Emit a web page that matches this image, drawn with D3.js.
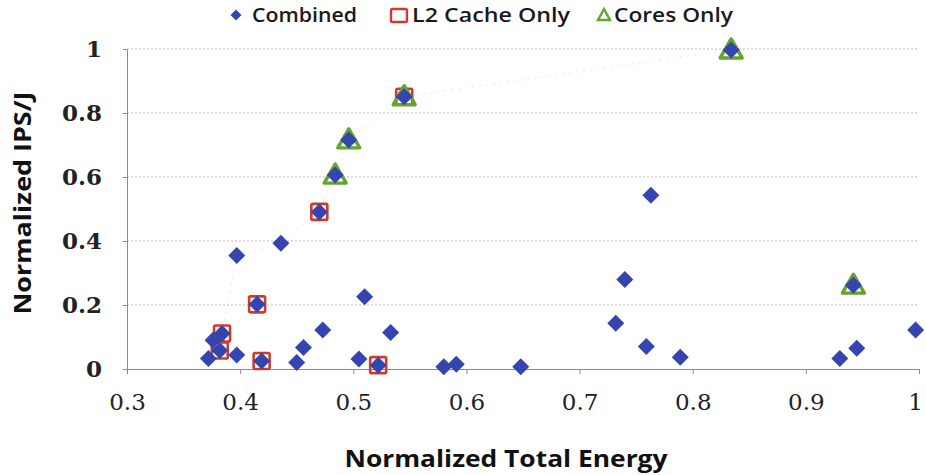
<!DOCTYPE html>
<html>
<head>
<meta charset="utf-8">
<script src="https://cdn.jsdelivr.net/npm/d3@7"></script>
<style>
  body { margin: 0; background: #fff; }
  svg { display: block; }
</style>
</head>
<body>
<div class="chart"></div>
<script>
// Size of the picture
let width = 926;
let height = 475;

// Combined points [energy, ips/j]
const combined = [
    [0.372, 0.033], [0.376, 0.090], [0.382, 0.058], [0.384, 0.111], [0.397, 0.044],
    [0.397, 0.355], [0.415, 0.202], [0.419, 0.025], [0.436, 0.393], [0.450, 0.020],
    [0.456, 0.067], [0.470, 0.491], [0.473, 0.122], [0.484, 0.606], [0.496, 0.716],
    [0.505, 0.031], [0.510, 0.226], [0.522, 0.012], [0.533, 0.114], [0.545, 0.851],
    [0.580, 0.007], [0.591, 0.015], [0.648, 0.007], [0.732, 0.143], [0.740, 0.280],
    [0.759, 0.070], [0.763, 0.543], [0.789, 0.037], [0.834, 0.997], [0.930, 0.033],
    [0.942, 0.262], [0.945, 0.065], [0.997, 0.122]
];

// L2 cache only points
const l2Only = [
    [0.382, 0.058], [0.384, 0.111], [0.415, 0.202], [0.419, 0.025],
    [0.470, 0.491], [0.522, 0.012], [0.545, 0.851]
];

// Cores only points
const coresOnly = [
    [0.484, 0.606], [0.496, 0.716], [0.545, 0.851], [0.834, 0.997], [0.942, 0.262]
];

// Faint frontier line through the best points
const frontier = [
    [0.372, 0.033], [0.384, 0.111], [0.397, 0.355], [0.436, 0.393], [0.470, 0.491],
    [0.484, 0.606], [0.496, 0.716], [0.545, 0.851], [0.834, 0.997]
];

// Tick values
const xTicks = [0.3, 0.4, 0.5, 0.6, 0.7, 0.8, 0.9, 1];
const yTicks = [0, 0.2, 0.4, 0.6, 0.8, 1];

// Legend entries
const legendItems = ["Combined", "L2 Cache Only", "Cores Only"];

const blue = "#3545b0";
const red = "#cf3b2b";
const green = "#62a52a";

let svg = d3.select(".chart").append("svg")
    .attr("width", width)
    .attr("height", height)
    .attr("viewBox", `0 0 ${width} ${height}`);

// Scales
const xScale = d3.scaleLinear().domain([0.3, 1]).range([127, 919]);
const yScale = d3.scaleLinear().domain([0, 1]).range([369, 49]);

// Dotted grid lines
svg.append("g")
    .selectAll("line")
    .data(yTicks.filter(d => d > 0))
    .enter().append("line")
    .attr("x1", xScale(0.3))
    .attr("x2", xScale(1))
    .attr("y1", d => yScale(d))
    .attr("y2", d => yScale(d))
    .attr("stroke", "#bdbdbd")
    .attr("stroke-width", 1)
    .attr("stroke-dasharray", "2,2");

// x axis
let xAxis = svg.append("g")
    .attr("transform", `translate(0, ${yScale(0)})`)
    .call(d3.axisBottom(xScale).tickValues(xTicks).tickSize(5).tickSizeOuter(0)
        .tickFormat(d3.format("")));
xAxis.select(".domain").attr("stroke", "#8a8a8a");
xAxis.selectAll(".tick line").attr("stroke", "#8a8a8a");
xAxis.selectAll("text")
    .attr("y", 33)
    .attr("dy", "0.35em")
    .style("font-family", "'DejaVu Serif', serif")
    .style("font-size", "23px")
    .attr("fill", "#222");
// keep the last label inside the picture
xAxis.selectAll("text").filter(d => d === 1).attr("dx", -4);

// y axis
let yAxis = svg.append("g")
    .attr("transform", `translate(${xScale(0.3)}, 0)`)
    .call(d3.axisLeft(yScale).tickValues(yTicks).tickSize(4).tickSizeOuter(0)
        .tickFormat(d3.format("")));
yAxis.select(".domain").attr("stroke", "#8a8a8a");
yAxis.selectAll(".tick line").attr("stroke", "#8a8a8a");
yAxis.selectAll("text")
    .attr("x", -25)
    .style("font-family", "'DejaVu Serif', serif")
    .style("font-size", "23px")
    .style("font-weight", "bold")
    .attr("fill", "#222");

// Faint frontier line
svg.append("path")
    .datum(frontier)
    .attr("d", d3.line().x(d => xScale(d[0])).y(d => yScale(d[1])))
    .attr("fill", "none")
    .attr("stroke", "#8a96dd")
    .attr("stroke-opacity", 0.25)
    .attr("stroke-width", 1)
    .attr("stroke-dasharray", "2,5");

// Red squares
svg.append("g")
    .selectAll("rect")
    .data(l2Only)
    .enter().append("rect")
    .attr("x", d => xScale(d[0]) - 8)
    .attr("y", d => yScale(d[1]) - 8)
    .attr("width", 16)
    .attr("height", 16)
    .attr("rx", 1.5)
    .attr("fill", "none")
    .attr("stroke", red)
    .attr("stroke-width", 2.6);

// Green triangles
const triPath = "M0,-11 L11,8 L-11,8 Z";
svg.append("g")
    .selectAll("path")
    .data(coresOnly)
    .enter().append("path")
    .attr("d", triPath)
    .attr("transform", d => `translate(${xScale(d[0])}, ${yScale(d[1])})`)
    .attr("fill", "none")
    .attr("stroke", green)
    .attr("stroke-width", 3.4)
    .attr("stroke-linejoin", "round");

// Blue diamonds
const diamondPath = "M0,-8.5 L8.5,0 L0,8.5 L-8.5,0 Z";
svg.append("g")
    .selectAll("path")
    .data(combined)
    .enter().append("path")
    .attr("d", diamondPath)
    .attr("transform", d => `translate(${xScale(d[0])}, ${yScale(d[1])})`)
    .attr("fill", blue);

// Legend
let legend = svg.append("g");
const legendX = [236, 399, 604];
const legendTextX = [252, 412, 614];
const legendWidths = [105, 158, 119];

legend.append("path")
    .attr("d", "M0,-5.5 L5.5,0 L0,5.5 L-5.5,0 Z")
    .attr("transform", `translate(${legendX[0]}, 15)`)
    .attr("fill", blue);
legend.append("rect")
    .attr("x", legendX[1] - 8).attr("y", 9)
    .attr("width", 16).attr("height", 13)
    .attr("rx", 1.5)
    .attr("fill", "none")
    .attr("stroke", red)
    .attr("stroke-width", 2.4);
legend.append("path")
    .attr("d", "M0,-6 L6,5 L-6,5 Z")
    .attr("transform", `translate(${legendX[2]}, 15)`)
    .attr("fill", "none")
    .attr("stroke", green)
    .attr("stroke-width", 2.4);

legend.selectAll("text")
    .data(legendItems)
    .enter().append("text")
    .attr("x", (d, i) => legendTextX[i])
    .attr("y", 22)
    .attr("textLength", (d, i) => legendWidths[i])
    .attr("lengthAdjust", "spacingAndGlyphs")
    .style("font-family", "'Open Sans', sans-serif")
    .style("font-size", "19px")
    .style("font-weight", "600")
    .attr("fill", "#1a1a1a")
    .text(d => d);

// Axis titles
svg.append("text")
    .attr("x", 506)
    .attr("y", 467)
    .attr("text-anchor", "middle")
    .attr("textLength", 323)
    .attr("lengthAdjust", "spacingAndGlyphs")
    .style("font-family", "'Open Sans', sans-serif")
    .style("font-size", "24px")
    .style("font-weight", "bold")
    .attr("fill", "#111")
    .text("Normalized Total Energy");

svg.append("text")
    .attr("transform", "translate(31, 203) rotate(-90)")
    .attr("text-anchor", "middle")
    .attr("textLength", 223)
    .attr("lengthAdjust", "spacingAndGlyphs")
    .style("font-family", "'Open Sans', sans-serif")
    .style("font-size", "23px")
    .style("font-weight", "bold")
    .attr("fill", "#111")
    .text("Normalized IPS/J");
</script>
</body>
</html>
